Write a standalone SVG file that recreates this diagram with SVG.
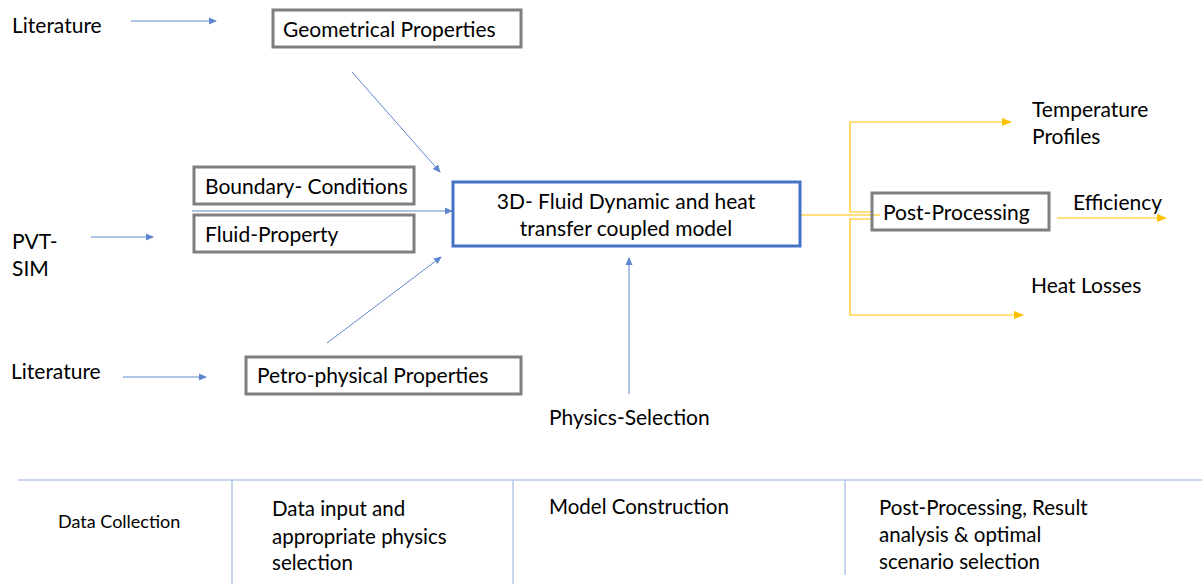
<svg xmlns="http://www.w3.org/2000/svg" width="1202" height="584" viewBox="0 0 1202 584">
<style>
text{font-family:Lato,"Open Sans","Liberation Sans",sans-serif;font-size:21px;fill:#000}
.box{fill:#fff;stroke:#7f7f7f;stroke-width:3}
.main{fill:#fff;stroke:#4472C4;stroke-width:3}
.b{fill:none;stroke:#4472C4;stroke-width:1;opacity:0.85}
.y{fill:none;stroke:#FFC000;stroke-width:1.2}
.t{fill:none;stroke:#B4C7E7;stroke-width:1.5}
.sm{font-size:18px}
.tb{font-size:20.5px}
</style>
<defs>
<marker id="ab" markerWidth="8" markerHeight="8" refX="7" refY="4" orient="auto" markerUnits="userSpaceOnUse"><path d="M0,0.5 L8,4 L0,7.5 z" fill="#4472C4"/></marker>
<marker id="ay" markerWidth="10" markerHeight="9" refX="9" refY="4.5" orient="auto" markerUnits="userSpaceOnUse"><path d="M0,0.5 L10,4.5 L0,8.5 z" fill="#FFC000"/></marker>
</defs>
<g id="connectors">
<line class="b" x1="131" y1="21" x2="216" y2="21" marker-end="url(#ab)"/>
<line class="b" x1="352" y1="72" x2="440" y2="172" marker-end="url(#ab)"/>
<line class="b" x1="192" y1="211" x2="452" y2="211" marker-end="url(#ab)"/>
<line class="b" x1="91" y1="237" x2="153" y2="237" marker-end="url(#ab)"/>
<line class="b" x1="327" y1="343" x2="441" y2="257" marker-end="url(#ab)"/>
<line class="b" x1="123" y1="377" x2="206" y2="377" marker-end="url(#ab)"/>
<line class="b" x1="629" y1="394" x2="629" y2="258" marker-end="url(#ab)"/>
<line class="y" x1="800" y1="215" x2="880" y2="215"/>
<polyline class="y" points="872,212 850,212 850,122 1011,122" marker-end="url(#ay)"/>
<polyline class="y" points="872,219 850,219 850,315 1023,315" marker-end="url(#ay)"/>
<line class="y" x1="1057" y1="218" x2="1166" y2="218" marker-end="url(#ay)"/>
</g>
<g id="lit1"><text x="12" y="33">Literature</text></g>
<g id="geo"><rect class="box" x="273" y="10" width="248" height="37"/><text x="283" y="37">Geometrical Properties</text></g>
<g id="bc"><rect class="box" x="194" y="167" width="220" height="37"/><text x="205" y="194">Boundary- Conditions</text></g>
<g id="fp"><rect class="box" x="194" y="215" width="220" height="37"/><text x="205" y="242">Fluid-Property</text></g>
<g id="pvt"><text x="12" y="249">PVT-</text><text x="12" y="276">SIM</text></g>
<g id="main"><rect class="main" x="453" y="182" width="347" height="64"/><text x="626" y="209" text-anchor="middle">3D- Fluid Dynamic and heat</text><text x="626" y="236" text-anchor="middle">transfer coupled model</text></g>
<g id="lit2"><text x="11" y="379">Literature</text></g>
<g id="petro"><rect class="box" x="246" y="357" width="275" height="37"/><text x="257" y="383">Petro-physical Properties</text></g>
<g id="phys"><text x="549" y="425">Physics-Selection</text></g>
<g id="post"><rect class="box" x="872" y="193" width="177" height="37" fill-opacity="0"/><text x="883" y="220">Post-Processing</text></g>
<g id="temp"><text x="1032" y="117">Temperature</text><text x="1032" y="144">Profiles</text></g>
<g id="eff"><text x="1073" y="210">Efficiency</text></g>
<g id="heat"><text x="1031" y="293">Heat Losses</text></g>
<g id="table">
<line class="t" x1="18" y1="480" x2="1202" y2="480"/>
<line class="t" x1="232" y1="480" x2="232" y2="584"/>
<line class="t" x1="513" y1="480" x2="513" y2="584"/>
<line class="t" x1="845" y1="480" x2="845" y2="575"/>
<text class="sm" x="58" y="528">Data Collection</text>
<text class="tb" x="272" y="516">Data input and</text>
<text class="tb" x="272" y="544">appropriate physics</text>
<text class="tb" x="272" y="570">selection</text>
<text class="tb" x="549" y="514">Model Construction</text>
<text class="tb" x="879" y="515">Post-Processing, Result</text>
<text class="tb" x="879" y="542">analysis &amp; optimal</text>
<text class="tb" x="879" y="569">scenario selection</text>
</g>
</svg>
